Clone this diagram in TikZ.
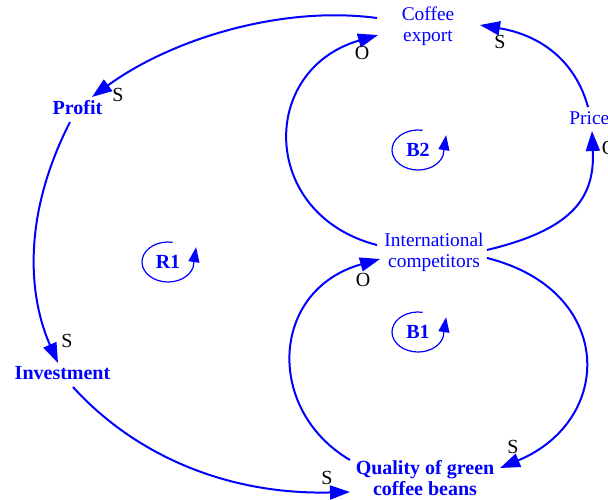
\documentclass[tikz,border=0pt]{standalone}
\usepackage{fontspec}
\setmainfont{Liberation Serif}
\usetikzlibrary{arrows.meta}
\definecolor{cldblue}{RGB}{0,0,255}

\begin{document}
\begin{tikzpicture}[x=0.5pt, y=-0.5pt,
  var/.style={text=cldblue, align=center, inner sep=0pt,
    font=\fontsize{9.7}{10.5}\selectfont},
  keyvar/.style={var, font=\fontsize{10}{10.5}\selectfont\bfseries},
  link/.style={draw=cldblue, line width=1pt,
    -{Triangle[length=10pt,width=7pt]}},
  pol/.style={inner sep=0pt, font=\fontsize{10}{10}\selectfont},
  loopline/.style={draw=cldblue, line width=0.6pt,
    -{Triangle[length=7.5pt,width=5.5pt]}}]
  \useasboundingbox (0,0) rectangle (608,499);
  % Variables
  \node[var] (export) at (428,26) {Coffee\\export};
  \node[var, anchor=west] (price) at (569,118) {Price};
  \node[var] (intl) at (434,252) {International\\competitors};
  \node[keyvar] (profit) at (77.5,108) {Profit};
  \node[keyvar] (invest) at (62.5,373) {Investment};
  \node[keyvar] (quality) at (425,478) {Quality of green\\coffee beans};
  % Links
  \draw[link] ([shift={(-51,-8)}]export.center) .. controls +(-97,-13) and +(78,-57) .. ([shift={(14.5,-11)}]profit.center);
  \draw[link] ([shift={(-7.5,14)}]profit.center) .. controls +(-50,98) and +(-28,-63) .. ([shift={(-4.5,-10)}]invest.center);
  \draw[link] ([shift={(10.5,14)}]invest.center) .. controls +(57,63) and +(-130,3) .. ([shift={(-75,14)}]quality.center);
  \draw[link] ([shift={(53,6)}]intl.center) .. controls +(128,32) and +(115,-48) .. ([shift={(75,-10)}]quality.center);
  \draw[link] ([shift={(-75,-18)}]quality.center) .. controls +(-85,-50) and +(-110,31) .. ([shift={(-54,7)}]intl.center);
  \draw[link] ([shift={(-57,-7)}]intl.center) .. controls +(-117,-30) and +(-120,35) .. ([shift={(-50,9)}]export.center);
  \draw[link] ([shift={(53,-2)}]intl.center) .. controls +(83,-20) and +(3,69) .. ([shift={(23,13)}]price.west);
  \draw[link] ([shift={(19,-11)}]price.west) .. controls +(-13,-47) and +(60,10) .. ([shift={(52,-1)}]export.center);
  % Polarities
  \node[pol] (s1) at (118,95) {S};
  \node[pol] (s2) at (67,341) {S};
  \node[pol] (s3) at (327,478) {S};
  \node[pol] (s4) at (513,447) {S};
  \node[pol] (o1) at (363,280) {O};
  \node[pol] (o2) at (362,53) {O};
  \node[pol] (s5) at (500,42) {S};
  \node[pol] (o3) at (609,148) {O};
  % Loops
  \node[keyvar] (r1) at (168,262) {R1};
  \node[keyvar] (b2) at (418,150) {B2};
  \node[keyvar] (b1) at (418,332) {B1};
  \foreach \lp in {r1,b2,b1}
    \draw[loopline] ([shift={(-80:26 and 20)}]\lp.center)
      arc[start angle=-80, end angle=-345, x radius=26, y radius=20]
      -- ++(3,-20);
\end{tikzpicture}
\end{document}
